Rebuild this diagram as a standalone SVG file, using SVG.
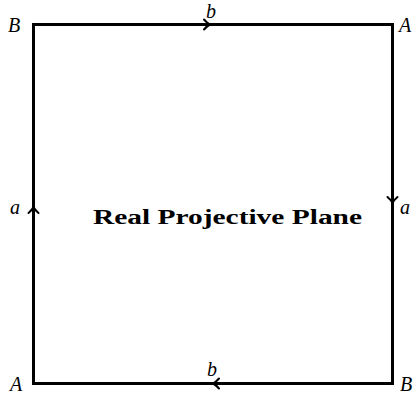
<svg xmlns="http://www.w3.org/2000/svg" width="413" height="396" viewBox="0 0 413 396">
<style>
.edge{fill:none;stroke:#000;stroke-width:3;stroke-linecap:square}
.chev{fill:none;stroke:#000;stroke-width:2;stroke-linecap:round;stroke-linejoin:miter}
.lbl{font-family:"Liberation Serif",serif;font-style:italic;font-size:20px;fill:#000}
.title{font-family:"Liberation Serif",serif;font-weight:bold;font-size:20px;fill:#000}
</style>
<rect width="413" height="396" fill="#fff"/>
<g id="connectors">
<path class="edge" d="M33.5,24.5 H392.5 V383.5 H33.5 Z"/>
<path class="chev" d="M204,19.5 Q207,23 210,24.5 Q207,26 204,29.5"/>
<path class="chev" d="M219,378.5 Q216,382 213,383.5 Q216,385 219,388.5"/>
<path class="chev" d="M28.5,213 Q32,210 33.5,207 Q35,210 38.5,213"/>
<path class="chev" d="M387.5,197 Q391,200 392.5,203 Q394,200 397.5,197"/>
</g>
<g id="corner-B-top"><text class="lbl" x="8" y="32">B</text></g>
<g id="corner-A-top"><text class="lbl" x="399" y="32">A</text></g>
<g id="corner-A-bottom"><text class="lbl" x="10" y="391">A</text></g>
<g id="corner-B-bottom"><text class="lbl" x="400" y="391">B</text></g>
<g id="label-b-top"><text class="lbl" x="206" y="18">b</text></g>
<g id="label-b-bottom"><text class="lbl" x="207" y="376">b</text></g>
<g id="label-a-left"><text class="lbl" x="10" y="214">a</text></g>
<g id="label-a-right"><text class="lbl" x="400" y="214">a</text></g>
<g id="title"><text class="title" x="93" y="224" textLength="269" lengthAdjust="spacingAndGlyphs">Real Projective Plane</text></g>
</svg>
